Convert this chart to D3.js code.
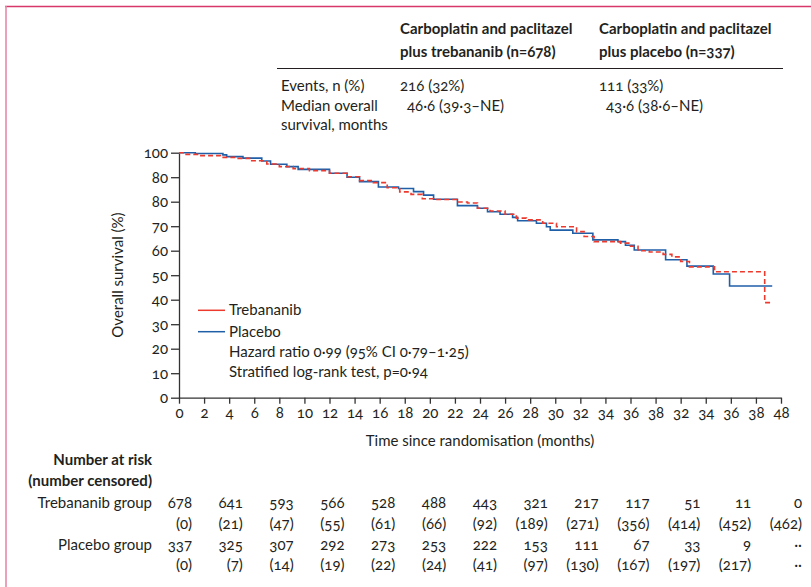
<!DOCTYPE html>
<html>
<head>
<meta charset="utf-8">
<script src="https://cdn.jsdelivr.net/npm/d3@7"></script>
<style>
  body { margin: 0; background: #fff; }
  svg { font-family: Lato, "Open Sans", sans-serif; font-variant-numeric: oldstyle-nums; fill: #231f20; }
  .axis path, .axis line { stroke: #333; stroke-width: 1.3; }
  .axis text { font-size: 15px; fill: #231f20; font-family: Lato, sans-serif; font-variant-numeric: oldstyle-nums; font-feature-settings: "onum" 1; }
  text { fill: #231f20; }
</style>
</head>
<body>
<div class="chart"></div>
<script>
// survival steps [months, %]
const trebananib = [[0,100],[0.4,99.3],[1.6,98.8],[3.3,98.1],[4.6,97.7],[5.7,96.7],[7.0,95.4],[8.0,94.3],[9.1,93.5],
  [10.4,92.7],[12.0,91.6],[13.4,90.2],[14.4,88.6],[15.5,87.8],[16.6,85.7],[17.6,84.0],[18.5,83.0],[19.4,81.2],
  [20.3,80.9],[22.2,79.9],[23.0,79.5],[23.8,77.3],[24.8,76.2],[26.0,74.9],[26.9,73.3],[27.7,72.6],[29.0,71.2],
  [30.1,69.8],[31.7,67.8],[32.3,65.8],[33.1,63.7],[35.2,63.1],[36.0,61.8],[36.6,60.0],[37.5,59.5],[38.6,58.5],
  [39.3,57.5],[40.0,55.6],[40.7,53.4],[42.7,51.4],[46.7,38.8],[47.2,38.8]]
const placebo = [[0,100],[1.3,99.7],[3.5,99.1],[3.8,98.4],[5.1,97.8],[6.6,96.6],[7.3,95.3],[8.6,94.3],[9.5,93.2],
  [12.0,91.6],[13.4,90.0],[14.4,88.2],[15.9,86.0],[17.5,85.4],[18.7,84.1],[19.5,82.7],[20.3,81.0],[22.2,78.4],
  [23.8,77.3],[24.6,75.9],[25.6,74.9],[26.6,73.6],[27.0,72.2],[28.5,71.2],[29.3,69.8],[29.6,68.4],[31.4,67.1],
  [33.0,64.4],[35.0,63.7],[35.6,62.2],[36.3,60.3],[38.8,56.3],[40.5,53.7],[42.6,50.5],[43.9,45.6],[47.3,45.6]]

const xTicks = [0,2,4,6,8,10,12,14,16,18,20,22,24,26,28,30,32,34,36,38,40,42,44,46,48]
const xTickLabels = ["0","2","4","6","8","10","12","14","16","18","20","22","24","26","28","30","32","34","36","38","32","34","36","38","48"]
const yTicks = [0,10,20,30,40,50,60,70,80,90,100]
const yTickLabels = ["0","10","20","30","40","50","60","70","80","80","100"]

const riskMonths = [0,4,8,12,16,20,24,28,32,36,40,44,48]
const trebAtRisk = [678,641,593,566,528,488,443,321,217,117,51,11,0]
const trebCensored = [0,21,47,55,61,66,92,189,271,356,414,452,462]
const placAtRisk = [337,325,307,292,273,253,222,153,111,67,33,9,null]
const placCensored = [0,7,14,19,22,24,41,97,130,167,197,217,null]

const headerCols = ["Carboplatin and paclitazel|plus trebananib (n=678)", "Carboplatin and paclitazel|plus placebo (n=337)"]
const events = ["216 (32%)", "111 (33%)"]
const medians = ["46·6 (39·3–NE)", "43·6 (38·6–NE)"]

const margin = ({top: 152.7, left: 179})
const width = 602
const height = 245

const svg0 = d3.select('.chart').append('svg')
    .attr('width', 811)
    .attr('height', 587)

// pink frame
svg0.append('line').attr('x1', 5).attr('x2', 811).attr('y1', 6.5).attr('y2', 6.5)
    .attr('stroke', '#d8376a').attr('stroke-width', 1.3)
svg0.append('line').attr('x1', 6).attr('x2', 6).attr('y1', 6).attr('y2', 587)
    .attr('stroke', '#e58aa8').attr('stroke-width', 1.6)

// header table
const colX = [400, 599]
headerCols.forEach((h, i) => {
    h.split('|').forEach((t, j) => {
        svg0.append('text').attr('x', colX[i]).attr('y', 34 + j * 23)
            .style('font-weight', 'bold').style('font-size', '15px').text(t)
    })
})
svg0.append('line').attr('x1', 277).attr('x2', 783).attr('y1', 68.5).attr('y2', 68.5)
    .attr('stroke', '#231f20').attr('stroke-width', 1.2)
const rowLabels = ["Events, n (%)", "Median overall", "survival, months"]
rowLabels.forEach((t, j) => {
    svg0.append('text').attr('x', 281).attr('y', 91 + j * 19.5).style('font-size', '15px').text(t)
})
events.forEach((t, i) => svg0.append('text').attr('x', colX[i]).attr('y', 91).style('font-size', '15px').text(t))
medians.forEach((t, i) => svg0.append('text').attr('x', colX[i] + 7).attr('y', 110.5).style('font-size', '15px').text(t))

const svg = svg0.append('g')
    .attr('transform', 'translate(' + margin.left + ',' + margin.top + ')')

const xScale = d3.scaleLinear().domain([0, 48]).range([0, width])
const yScale = d3.scaleLinear().domain([0, 100]).range([height, 0])

const xAxis = d3.axisBottom(xScale)
    .tickValues(xTicks)
    .tickFormat((d, i) => xTickLabels[i])
    .tickSize(6).tickSizeOuter(0).tickPadding(4)
const yAxis = d3.axisLeft(yScale)
    .tickValues(yTicks)
    .tickFormat((d, i) => yTickLabels[i])
    .tickSize(8).tickSizeOuter(0).tickPadding(3)

svg.append('g').attr('class', 'axis x-axis')
    .attr('transform', `translate(0, ${height})`)
    .call(xAxis)
svg.append('g').attr('class', 'axis y-axis')
    .call(yAxis)

const line = d3.line()
    .x(d => xScale(d[0]))
    .y(d => yScale(d[1]))
    .curve(d3.curveStepAfter)

svg.append('path').datum(placebo)
    .attr('d', line).attr('fill', 'none')
    .attr('stroke', '#1f5fa8').attr('stroke-width', 1.6)
svg.append('path').datum(trebananib)
    .attr('d', line).attr('fill', 'none')
    .attr('stroke', '#ec3a2e').attr('stroke-width', 1.6)
    .attr('stroke-dasharray', '5,3')

// legend
const legend = [["Trebananib", '#ec3a2e'], ["Placebo", '#1f5fa8']]
legend.forEach((l, i) => {
    const y = 310.3 + i * 21.4
    svg0.append('line').attr('x1', 198).attr('x2', 225).attr('y1', y).attr('y2', y)
        .attr('stroke', l[1]).attr('stroke-width', 1.5)
    svg0.append('text').attr('x', 229).attr('y', y + 5).style('font-size', '15px').text(l[0])
})
svg0.append('text').attr('x', 229).attr('y', 356.5).style('font-size', '15px').text("Hazard ratio 0·99 (95% CI 0·79–1·25)")
svg0.append('text').attr('x', 229).attr('y', 377).style('font-size', '15px').text("Stratified log-rank test, p=0·94")

// axis titles
svg0.append('text')
    .attr('transform', 'translate(118,275) rotate(-90)')
    .attr('dy', '0.35em')
    .style('text-anchor', 'middle').style('font-size', '15px')
    .text("Overall survival (%)")
svg0.append('text')
    .attr('x', 480).attr('y', 446)
    .style('text-anchor', 'middle').style('font-size', '15px')
    .text("Time since randomisation (months)")

// number at risk
const riskX = d3.scalePoint().domain(riskMonths).range([192, 802])
const riskLabels = [["Number at risk", 465, true], ["(number censored)", 486, true], ["Trebananib group", 508, false], ["Placebo group", 550, false]]
riskLabels.forEach(r => {
    svg0.append('text').attr('x', 152).attr('y', r[1])
        .style('text-anchor', 'end').style('font-size', '15px')
        .style('font-weight', r[2] ? 'bold' : 'normal').text(r[0])
})
const rows = [[trebAtRisk, 508, d => d], [trebCensored, 529, d => '(' + d + ')'],
              [placAtRisk, 550, d => d], [placCensored, 570, d => '(' + d + ')']]
rows.forEach(r => {
    svg0.append('g').selectAll('text')
        .data(r[0])
        .enter()
        .append('text')
        .attr('x', (d, i) => riskX(riskMonths[i]))
        .attr('y', r[1])
        .style('text-anchor', 'end').style('font-size', '15px')
        .text(d => d === null ? '··' : r[2](d))
})
</script>
</body>
</html>
